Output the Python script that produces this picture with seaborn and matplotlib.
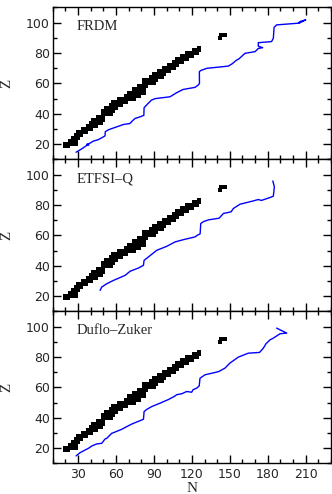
import matplotlib
matplotlib.use("Agg")
import matplotlib.pyplot as plt
import seaborn as sns
import pandas as pd
from matplotlib.ticker import MultipleLocator

# ---- stable (black squares): element Z and the neutron numbers plotted for it ----
stable_Z = [19, 20, 21, 22, 23, 24, 25, 26, 27, 28, 29, 30, 31, 32, 33, 34, 35, 36,
            37, 38, 39, 40, 41, 42, 44, 45, 46, 47, 48, 49, 50, 51, 52, 53, 54, 55,
            56, 57, 58, 59, 60, 62, 63, 64, 65, 66, 67, 68, 69, 70, 71, 72, 73, 74,
            75, 76, 77, 78, 79, 80, 81, 82, 83, 90, 92]
stable_N = [
    [20, 21, 22], [20, 22, 23, 24, 26, 28], [24], [24, 25, 26, 27, 28], [27, 28],
    [26, 28, 29, 30], [30], [28, 30, 31, 32], [32], [30, 32, 33, 34, 36], [34, 36],
    [34, 36, 37, 38, 40], [38, 40], [38, 40, 41, 42, 44], [42], [40, 42, 43, 44, 46, 48],
    [44, 46], [42, 44, 46, 47, 48, 50], [48, 50], [46, 48, 49, 50], [50],
    [50, 51, 52, 54, 56], [52], [50, 52, 53, 54, 55, 56, 58], [52, 54, 55, 56, 57, 58, 60],
    [58], [56, 58, 59, 60, 62, 64], [60, 62], [58, 60, 62, 63, 64, 65, 66, 68], [64, 66],
    [62, 64, 65, 66, 67, 68, 69, 70, 72, 74], [70, 72], [68, 70, 71, 72, 73, 74, 76, 78],
    [74], [70, 72, 74, 75, 76, 77, 78, 80, 82], [78], [74, 76, 78, 79, 80, 81, 82],
    [81, 82], [78, 80, 82, 84], [82], [82, 83, 84, 85, 86, 88, 90],
    [82, 85, 86, 87, 88, 90, 92], [88, 90], [88, 90, 91, 92, 93, 94, 96], [94],
    [90, 92, 94, 95, 96, 97, 98], [98], [94, 96, 98, 99, 100, 102], [100],
    [98, 100, 101, 102, 103, 104, 106], [104, 105], [102, 104, 105, 106, 107, 108],
    [107, 108], [106, 108, 109, 110, 112], [110, 112], [108, 110, 111, 112, 113, 114, 116],
    [114, 116], [112, 114, 116, 117, 118, 120], [118], [116, 118, 119, 120, 121, 122, 124],
    [122, 124], [122, 124, 125, 126], [126], [142], [143, 146]]

# ---- neutron drip lines (blue) ----
frdm_N = [28.4, 33, 37, 38.5, 36.8, 39, 42, 46, 50, 51.3, 51.5, 54, 60.5, 66, 71, 72.5,
          75, 79, 82, 82.2, 85, 88, 91, 102.7, 108, 113, 122.5, 125, 126, 125.9, 127,
          131.7, 148.8, 152, 155.4, 157, 162, 170, 172.5, 176, 172.5, 172.5, 183, 184.4,
          185, 187, 204, 205.5, 210, 204.5]
frdm_Z = [14.7, 17, 19.3, 19.6, 19.9, 20.5, 22, 23, 24.8, 25.5, 28.2, 29.5, 31.4, 33,
          33.6, 35, 36.9, 38, 39, 44, 46.5, 49, 50, 51.2, 53.9, 56, 57.4, 58.9, 60, 67.7,
          68.5, 69.9, 71.4, 73, 75.4, 76, 79.8, 80.9, 83, 83.5, 84.5, 86.8, 87.5, 89.7,
          96.9, 98.5, 99.6, 100.7, 101.8, 99.5]

etfsi_N = [47.4, 48.7, 52.7, 58, 67.2, 71.1, 77.7, 81.7, 82.2, 85.6, 92.2, 100.1, 106.7,
           113.3, 122.5, 124.3, 126.5, 127, 129, 133, 141.5, 144.9, 151, 152.8, 158,
           163.3, 168.6, 172.5, 175, 181.7, 184.4, 185.2, 184]
etfsi_Z = [23.8, 26, 28.2, 30.4, 33.7, 36.4, 38.5, 40.3, 43.6, 45.8, 50.2, 52.8, 55.7,
           57.2, 59, 60.1, 61, 67.8, 69, 70.2, 71.3, 74.4, 75.5, 77.7, 80.5, 81.6, 82.7,
           83.6, 83, 84.9, 85.8, 92, 95.8]

dz_N = [28.4, 31.5, 35.6, 38.2, 41, 44.8, 48.7, 51.3, 52.7, 56.6, 58, 64.5, 68.5, 72.5,
        81.7, 82.2, 84.3, 88.3, 94.8, 101.4, 106, 108, 112, 115.9, 119.8, 121, 123.8,
        125.8, 126.4, 130.4, 138.3, 141.5, 146.2, 150.1, 156.7, 164.6, 173.5, 176.5,
        178.6, 181.8, 184.4, 189.7, 195, 187]
dz_Z = [14.9, 17, 18.8, 19.9, 21.5, 22.8, 23.2, 26, 26.5, 29.8, 30.2, 32.4, 34.2, 35.9,
        39, 44.1, 45.5, 47.4, 49.6, 52, 54, 55.2, 55.8, 57.3, 56.8, 58.5, 59.5, 61, 66,
        68.3, 69.8, 70.5, 72.7, 76, 79.9, 82.5, 83, 85.8, 88.7, 91.3, 92.4, 95.3, 95.7, 99]

panel_names = ["FRDM", "ETFSI\u2013Q", "Duflo\u2013Zuker"]
x_ticks = [30, 60, 90, 120, 150, 180, 210]
y_ticks = [20, 40, 60, 80, 100]

# ---- build tables ----
rows = []
for z, ns in zip(stable_Z, stable_N):
    for n in ns:
        rows.append((n, z))
stable = pd.DataFrame(rows, columns=["N", "Z"])
drip = [(frdm_N, frdm_Z), (etfsi_N, etfsi_Z), (dz_N, dz_Z)]

sns.set_style("ticks")
plt.rcParams["font.family"] = ["DejaVu Sans"]
plt.rcParams["axes.linewidth"] = 1.0

fig, axes = plt.subplots(3, 1, figsize=(3.32, 4.94), dpi=100, sharex=True,
                         gridspec_kw=dict(hspace=0))
fig.subplots_adjust(left=0.159, right=0.997, bottom=0.062, top=0.985)

for ax, name, (dn, dzv) in zip(axes, panel_names, drip):
    sns.scatterplot(data=stable, x="N", y="Z", marker="s", s=6, color="black",
                    linewidth=0, ax=ax, legend=False, zorder=3)
    sns.lineplot(x=dn, y=dzv, sort=False, estimator=None, color="#0000ff",
                 linewidth=1.0, ax=ax, zorder=2)
    ax.set_xlim(10, 230)
    ax.set_ylim(10, 110)
    ax.set_xticks(x_ticks)
    ax.set_yticks(y_ticks)
    ax.xaxis.set_minor_locator(MultipleLocator(10))
    ax.yaxis.set_minor_locator(MultipleLocator(10))
    ax.tick_params(which="both", direction="in", top=True, right=True,
                   color="black", width=1.0, labelsize=9, pad=2)
    ax.tick_params(which="major", length=5.5)
    ax.tick_params(which="minor", length=3)
    for sp in ax.spines.values():
        sp.set_color("black")
    ax.set_ylabel("Z", family="Liberation Serif", fontsize=11)
    ax.yaxis.set_label_coords(-0.143, 0.5)
    ax.set_xlabel("")
    ax.text(0.084, 0.872, name, transform=ax.transAxes, ha="left", va="center",
            family="Liberation Serif", fontsize=10.5)

axes[-1].set_xlabel("N", family="Liberation Serif", fontsize=11)
axes[-1].xaxis.set_label_coords(0.5, -0.125)
axes[-1].tick_params(axis="x", which="major", pad=3)

fig.savefig("out.png", dpi=100)
